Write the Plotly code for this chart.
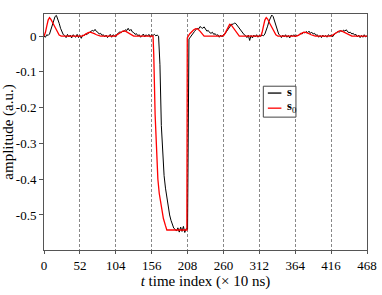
import numpy as np
import plotly.graph_objects as go

# black measured signal s, sampled every 2 time-index units (0..468)
s_t = list(range(0, 470, 2))
s_vals = [
    0.000, -0.003, 0.004, 0.002, 0.006, 0.018, 0.030, 0.042, 0.055, 0.058,
    0.048, 0.036, 0.022, 0.012, 0.004, 0.002, -0.004, 0.005, -0.002, 0.003,
    -0.005, 0.004, 0.000, -0.003, 0.005, -0.004, 0.002, -0.006, 0.003, 0.001,
    0.006, 0.004, 0.008, 0.010, 0.012, 0.016, 0.014, 0.019, 0.013, 0.011,
    0.006, 0.008, 0.002, 0.004, -0.002, 0.003, -0.004, 0.002, 0.005, -0.003,
    0.004, 0.001, -0.002, 0.006, 0.009, 0.012, 0.010, 0.014, 0.013, 0.018,
    0.016, 0.022, 0.015, 0.019, 0.012, 0.010, 0.005, 0.007, 0.001, 0.004,
    -0.003, 0.003, 0.006, -0.002, 0.004, 0.000, 0.005, -0.003, 0.004, 0.002,
    0.005, 0.001, 0.003, 0.000, -0.080, -0.250, -0.340, -0.390, -0.425, -0.455,
    -0.480, -0.500, -0.515, -0.527, -0.537, -0.540, -0.545, -0.536, -0.548, -0.534,
    -0.546, -0.532, -0.549, -0.538, -0.540, -0.008, -0.002, 0.004, 0.010, 0.013,
    0.018, 0.022, 0.020, 0.027, 0.024, 0.022, 0.026, 0.020, 0.014, 0.016,
    0.010, 0.008, 0.011, 0.005, 0.007, 0.002, 0.004, -0.003, 0.003, -0.002,
    0.004, 0.006, 0.012, 0.018, 0.025, 0.030, 0.034, 0.033, 0.037, 0.035,
    0.030, 0.022, 0.018, 0.012, 0.008, 0.004, 0.002, -0.004, 0.003, -0.012,
    0.002, -0.005, 0.003, -0.002, 0.004, -0.003, 0.002, 0.000, 0.003, 0.001,
    0.006, 0.015, 0.028, 0.042, 0.052, 0.059, 0.055, 0.044, 0.030, 0.016,
    0.006, 0.002, -0.004, 0.003, -0.002, 0.004, -0.003, 0.002, -0.005, 0.003,
    0.000, 0.004, -0.002, 0.003, 0.001, 0.005, 0.008, 0.006, 0.011, 0.009,
    0.013, 0.010, 0.014, 0.008, 0.011, 0.006, 0.008, 0.002, 0.004, -0.003,
    0.002, -0.004, 0.003, -0.002, 0.002, -0.003, 0.004, 0.001, 0.003, -0.002,
    0.005, 0.008, 0.010, 0.013, 0.011, 0.016, 0.012, 0.017, 0.014, 0.018,
    0.012, 0.010, 0.011, 0.006, 0.008, 0.003, 0.005, -0.002, 0.003, -0.004,
    0.002, -0.003, 0.004, -0.002, 0.001,
]

# red reference signal s0
s0_t = [0, 2, 4, 6, 8, 10, 13, 16, 19, 22, 25,
        55, 58, 61, 64, 67, 70, 73, 76, 79, 82,
        103, 106, 109, 112, 115, 118, 121, 124, 127, 130,
        158, 159, 161, 163, 165, 167, 170, 173, 176, 178, 207,
        207.6, 211, 214, 217, 220, 223, 226, 229, 232,
        258, 261, 264, 267, 269, 271, 274, 277, 280, 283,
        314, 316, 318, 320, 322, 324, 327, 330, 333, 336, 339,
        366, 369, 372, 375, 378, 381, 384, 387, 390, 393,
        416, 419, 422, 425, 428, 431, 434, 437, 440, 443, 446, 468]
s0_vals = [0.0, 0.010, 0.028, 0.045, 0.052, 0.047, 0.036, 0.024, 0.012, 0.003, 0.0,
           0.0, 0.003, 0.007, 0.010, 0.011, 0.010, 0.007, 0.004, 0.001, 0.0,
           0.0, 0.004, 0.009, 0.013, 0.015, 0.014, 0.011, 0.007, 0.003, 0.0,
           0.0, -0.05, -0.22, -0.34, -0.40, -0.44, -0.48, -0.51, -0.53, -0.542, -0.542,
           -0.005, 0.006, 0.013, 0.018, 0.021, 0.020, 0.014, 0.006, 0.0,
           0.0, 0.003, 0.014, 0.028, 0.033, 0.032, 0.024, 0.014, 0.005, 0.0,
           0.0, 0.010, 0.028, 0.045, 0.052, 0.048, 0.036, 0.024, 0.013, 0.004, 0.0,
           0.0, 0.003, 0.007, 0.010, 0.011, 0.010, 0.007, 0.004, 0.001, 0.0,
           0.0, 0.004, 0.009, 0.013, 0.015, 0.015, 0.012, 0.008, 0.004, 0.001, 0.0, 0.0]

x_ticks = [0, 52, 104, 156, 208, 260, 312, 364, 416, 468]
y_ticks = [0, -0.1, -0.2, -0.3, -0.4, -0.5]
y_ticktext = ["0", "-0.1", "-0.2", "-0.3", "-0.4", "-0.5"]
series_names = ["<b>s</b>", "<b>s</b><sub>0</sub>"]
series_colors = ["black", "red"]

FONT = "Liberation Serif"

fig = go.Figure()
fig.add_trace(go.Scatter(x=s_t, y=s_vals, mode="lines", name=series_names[0],
                         line=dict(color=series_colors[0], width=1)))
fig.add_trace(go.Scatter(x=s0_t, y=s0_vals, mode="lines", name=series_names[1],
                         line=dict(color=series_colors[1], width=1.3)))

# compact legend box (drawn in paper coordinates)
fig.add_shape(type="rect", xref="paper", yref="paper", x0=0.679, x1=0.780, y0=0.563, y1=0.694,
              line=dict(color="#444", width=1), fillcolor="white", layer="above")
for i, (nm, col) in enumerate(zip(series_names, series_colors)):
    yy = 0.665 - i * 0.064
    fig.add_shape(type="line", xref="paper", yref="paper", x0=0.693, x1=0.735, y0=yy, y1=yy,
                  line=dict(color=col, width=1.3), layer="above")
    fig.add_annotation(xref="paper", yref="paper", x=0.746, y=yy + 0.004, text=nm,
                       showarrow=False, xanchor="left", yanchor="middle",
                       font=dict(family=FONT, size=12.5, color="black"))

fig.update_layout(
    width=382, height=295,
    margin=dict(l=44, r=15, t=14, b=45),
    paper_bgcolor="white", plot_bgcolor="white",
    font=dict(family=FONT, size=13, color="black"),
    showlegend=False,
)
fig.update_xaxes(
    range=[0, 468], tickvals=x_ticks, ticktext=[str(v) for v in x_ticks],
    showgrid=True, gridcolor="#888", griddash="3px,2px", gridwidth=1,
    showline=True, linecolor="#555", linewidth=1, mirror=True,
    ticks="outside", ticklen=3, tickcolor="#555", zeroline=False,
    tickfont=dict(family=FONT, size=13), automargin=False,
    title=dict(text="<i>t</i> time index (× 10 ns)", font=dict(family=FONT, size=15), standoff=3),
)
fig.update_yaxes(
    range=[-0.598, 0.062], tickvals=y_ticks, ticktext=y_ticktext,
    showgrid=False, showline=True, linecolor="#555", linewidth=1, mirror=True,
    ticks="outside", ticklen=4, tickcolor="#555", zeroline=False,
    tickfont=dict(family=FONT, size=13), automargin=False,
    title=dict(text="amplitude (a.u.)", font=dict(family=FONT, size=15), standoff=1),
)

fig.write_html("out.html", config={"displayModeBar": False},
               post_script="document.body.style.margin='0';document.body.style.padding='0';")
